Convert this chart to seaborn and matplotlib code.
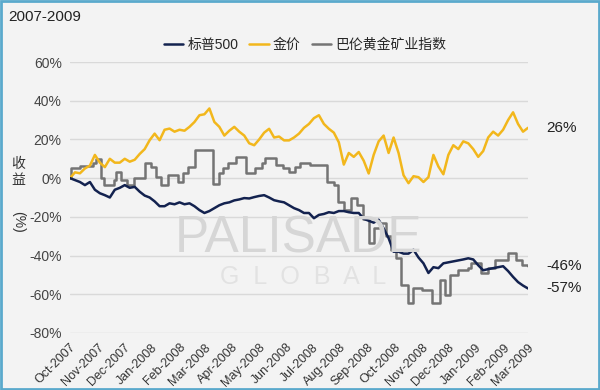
import numpy as np
import pandas as pd
import matplotlib
matplotlib.use("Agg")
import matplotlib.pyplot as plt
import seaborn as sns

start = "2007-10-01"
end = "2009-03-01"

gold = [0, 3, 2.5, 5, 6.5, 12, 8, 5.7, 10, 8, 8, 10, 8.5, 9.5, 12.5, 15, 19.6, 23,
        19.6, 25, 25.6, 24, 25, 24.5, 26.5, 29, 32.5, 33, 36, 29, 26.5, 22, 24.5,
        26.5, 24, 22, 18, 17, 20, 23.5, 25.5, 21, 21.5, 19.5, 19.5, 21, 23, 26, 28,
        31, 32.5, 28, 25.5, 23.5, 18.5, 7, 13, 11, 13.5, 9, 2.4, 12, 19, 22, 13, 21,
        13, 1.5, -2.6, 1, 0.5, -2, 0.5, 12, 6, 2, 12, 17, 15, 19, 18, 15, 11, 14,
        21, 24, 22, 25, 30, 34, 28, 24, 26]

sp500 = [0, -1, -2, -3.6, -2, -6, -7.8, -8.8, -10, -6, -5, -3.6, -5, -4.5, -7, -9,
         -10, -12, -14.5, -14.5, -13, -13.5, -12.5, -13.5, -13, -14.5, -16.5, -18,
         -17, -15.5, -14, -13, -12.5, -11.5, -11, -10.3, -10.5, -9.8, -9.2, -8.8,
         -10, -11.4, -12, -12.5, -14, -15.5, -16.5, -18, -18, -20.7, -19, -18.5,
         -17.6, -18, -17, -17, -17.6, -18, -18, -21, -22, -23, -21.5, -26, -31, -38,
         -38, -39, -39, -37, -41, -44, -49, -46, -46.5, -44, -43.5, -43, -42.5, -42,
         -41.4, -42, -45, -47.6, -47, -46.5, -46, -45.5, -48, -51, -53.7, -55.5, -57]

# gold miners index moves in steps: day offset from start and level after it
miners_days = [0, 1, 11, 26, 29, 35, 38, 50, 52, 58, 64, 72, 85, 91, 97, 103, 111,
               122, 128, 133, 141, 161, 168, 173, 178, 187, 199, 209, 217, 220, 233,
               240, 247, 254, 260, 271, 290, 298, 303, 309, 317, 324, 331, 338, 343,
               350, 357, 362, 368, 374, 382, 387, 397, 409, 418, 423, 429, 438, 449,
               453, 464, 472, 480, 494, 503, 510, 517]
miners = [0, 5, 6.2, 7.6, 10, 0, -3.6, -1, 3, -1, -3.6, 0, 8, 6, 0.5, -3.6, 1.5, -2,
          2.4, 5.7, 14.5, -3.2, 2.4, 5, 7.6, 11, 2.4, 5, 7.6, 10.5, 6.6, 5, 3, 5.7,
          7.6, 6.6, -2, -3.6, -12.4, -16.5, -10.3, -14, -21, -33.6, -26, -23, -30,
          -37, -41, -55, -64.6, -57, -58, -64.6, -52.7, -60.5, -50, -47.6, -46.5,
          -44, -49, -46.5, -42.4, -38.8, -42.4, -45, -45.5]

names = ["标普500", "金价", "巴伦黄金矿业指数"]
end_labels = ["-57%", "26%", "-46%"]

dates = pd.date_range(start, end, periods=len(gold))
df = pd.DataFrame({"date": dates, "sp": sp500, "gold": gold})
mdf = pd.DataFrame({"date": pd.Timestamp(start) + pd.to_timedelta(miners_days, unit="D"),
                    "val": miners})

sns.set_style("white")
plt.rcParams["font.family"] = ["Liberation Sans", "Noto Sans CJK SC", "DejaVu Sans"]

navy = "#13224f"
yellow = "#f2b71c"
grey = "#747474"

fig = plt.figure(figsize=(6, 3.9), dpi=100, facecolor="#f3f3f3")
ax = fig.add_axes([70 / 600, 1 - 333 / 390, 458 / 600, 271 / 390])
ax.set_facecolor("none")

# faint watermark
fig.text(0.497, 1 - 239 / 390, "PALISADE", fontsize=37, color="#d6d6d6", ha="center",
         va="center", zorder=0)
fig.text(0.505, 1 - 277 / 390, "G  L  O  B  A  L", fontsize=18, color="#e2e2e2",
         ha="center", va="center", zorder=0)

sns.lineplot(data=mdf, x="date", y="val", ax=ax, color=grey, lw=1.8,
             drawstyle="steps-post", label=names[2])
sns.lineplot(data=df, x="date", y="gold", ax=ax, color=yellow, lw=1.8, label=names[1])
sns.lineplot(data=df, x="date", y="sp", ax=ax, color=navy, lw=1.8, label=names[0])

ax.set_xlim(pd.Timestamp(start), pd.Timestamp(end))
ax.set_ylim(-80, 60)
ax.set_yticks(np.arange(-80, 61, 20))
ax.set_yticklabels([f"{v}%" for v in range(-80, 61, 20)], fontsize=10, color="#444444")
months = pd.date_range(start, end, freq="MS")
ax.set_xticks(months)
ax.set_xticklabels([m.strftime("%b-%Y") for m in months], rotation=45, ha="right",
                   rotation_mode="anchor", fontsize=9, color="#333333")
ax.tick_params(axis="both", length=0, pad=6)
ax.grid(axis="y", color="#d9d9d9", lw=1)
for s in ax.spines.values():
    s.set_visible(False)
ax.set_xlabel("")
ax.set_ylabel("")

handles, labels = ax.get_legend_handles_labels()
order = [2, 1, 0]
ax.legend([handles[i] for i in order], [labels[i] for i in order], ncol=3,
          frameon=False, loc="center", bbox_to_anchor=(305 / 600, 1 - 45 / 390),
          bbox_transform=fig.transFigure, fontsize=10, handlelength=1.4,
          handletextpad=0.3, columnspacing=0.8)

# labels at the right end of each line
last = [sp500[-1], gold[-1], miners[-1]]
for val, txt in zip(last, end_labels):
    ax.annotate(txt, xy=(1, val), xycoords=("axes fraction", "data"),
                xytext=(13, 0), textcoords="offset points", va="center",
                fontsize=11, color="#222222")

fig.text(8 / 600, 1 - 17 / 390, "2007-2009", fontsize=11, color="#222222", va="center")
fig.text(18 / 600, 1 - 172 / 390, "收\n益", fontsize=10, color="#333333",
         ha="center", va="center", linespacing=1.1)
fig.text(18 / 600, 1 - 222 / 390, "(%)", fontsize=10, color="#333333",
         ha="center", va="center", rotation=-90)

# thin frame around the picture
fig.patches.append(plt.Rectangle((0.002, 0.003), 0.996, 0.994, transform=fig.transFigure,
                                 fill=False, ec="#5aa9cc", lw=2))

fig.savefig("out.png", dpi=100, facecolor=fig.get_facecolor())
